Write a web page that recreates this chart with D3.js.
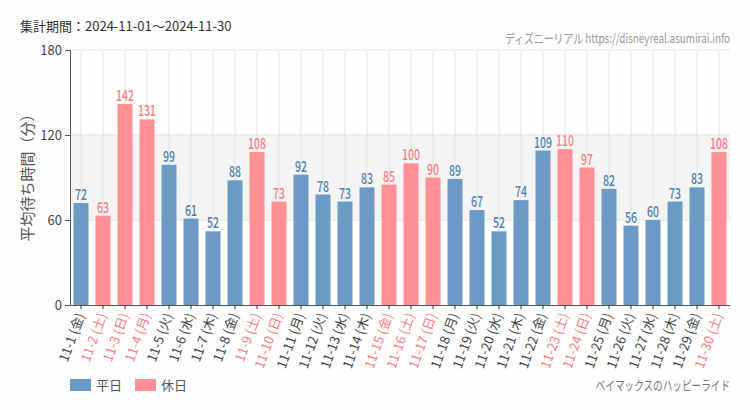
<!DOCTYPE html>
<html><head><meta charset="utf-8">
<script src="https://cdn.jsdelivr.net/npm/d3@7"></script>
<style>
body{margin:0;background:#fdfefd;}
svg{display:block;}
text{font-family:"Noto Sans CJK JP","Noto Sans",sans-serif;}
</style></head>
<body><svg id="c" width="750" height="410"></svg>
<script>
const dates = ["11-1","11-2","11-3","11-4","11-5","11-6","11-7","11-8","11-9","11-10","11-11","11-12","11-13","11-14","11-15","11-16","11-17","11-18","11-19","11-20","11-21","11-22","11-23","11-24","11-25","11-26","11-27","11-28","11-29","11-30"];
const weekdays = ["金","土","日","月","火","水","木","金","土","日","月","火","水","木","金","土","日","月","火","水","木","金","土","日","月","火","水","木","金","土"];
const holiday = [0,1,1,1,0,0,0,0,1,1,0,0,0,0,1,1,1,0,0,0,0,0,1,1,0,0,0,0,0,1];
const waitTimes = [72,63,142,131,99,61,52,88,108,73,92,78,73,83,85,100,90,89,67,52,74,109,110,97,82,56,60,73,83,108];
const yTicks = [0,60,120,180];

const svg = d3.select("#c");
const m = {l:70, r:730, t:50, b:305};
const x = d3.scaleBand().domain(dates).range([m.l, m.r]).paddingInner(0.32).paddingOuter(0.16);
const y = d3.scaleLinear().domain([0,180]).range([m.b, m.t]);
const blue = "#6b9ac4", pink = "#ff8f94";
const blueT = "#4d80b5", pinkT = "#ff7b82";

svg.append("rect").attr("x", m.l).attr("width", m.r - m.l)
  .attr("y", y(120)).attr("height", y(60) - y(120)).attr("fill", "#f3f4f3");

svg.append("g").selectAll("line").data(yTicks.slice(1)).join("line")
  .attr("x1", m.l).attr("x2", m.r).attr("y1", d=>y(d)).attr("y2", d=>y(d))
  .attr("stroke", "#e3e3e3").attr("stroke-width", 1);
svg.append("g").selectAll("line").data(dates).join("line")
  .attr("x1", d=>x(d)+x.bandwidth()/2).attr("x2", d=>x(d)+x.bandwidth()/2)
  .attr("y1", m.t).attr("y2", m.b).attr("stroke", "#e3e3e3");

svg.append("g").selectAll("rect").data(waitTimes).join("rect")
  .attr("x", (d,i)=>x(dates[i])).attr("width", x.bandwidth())
  .attr("y", d=>y(d)).attr("height", d=>y(0)-y(d))
  .attr("fill", (d,i)=>holiday[i]?pink:blue);

svg.append("g").selectAll("text").data(waitTimes).join("text")
  .attr("transform", (d,i)=>`translate(${x(dates[i])+x.bandwidth()/2},${y(d)-3}) scale(0.7,1)`)
  .attr("text-anchor", "middle").attr("font-size", 15).attr("font-weight", 500)
  .attr("font-family", "Roboto, sans-serif")
  .attr("fill", (d,i)=>holiday[i]?pinkT:blueT).text(d=>d);

const ya = svg.append("g").attr("transform", `translate(${m.l},0)`)
  .call(d3.axisLeft(y).tickValues(yTicks).tickSize(5).tickPadding(3));
ya.select(".domain").attr("stroke", "#555");
ya.selectAll(".tick line").attr("stroke", "#555");
ya.selectAll("text").attr("font-size", 13).attr("fill", "#444").attr("font-family", "Roboto, sans-serif");

const xa = svg.append("g").attr("transform", `translate(0,${m.b})`)
  .call(d3.axisBottom(x).tickSize(4).tickSizeOuter(0).tickFormat(""));
xa.select(".domain").attr("stroke", "#555");
xa.selectAll(".tick line").attr("stroke", "#333");

svg.append("g").selectAll("text").data(dates).join("text")
  .attr("transform", (d)=>`translate(${x(d)+x.bandwidth()/2+4},${m.b+10}) rotate(-70)`)
  .attr("text-anchor", "end").attr("font-size", 13)
  .attr("fill", (d,i)=>holiday[i]?pinkT:"#444")
  .text((d,i)=>`${d} (${weekdays[i]})`);

svg.append("text").attr("transform", `translate(33,174) rotate(-90)`)
  .attr("text-anchor", "middle").attr("font-size", 15).attr("fill", "#555")
  .text("平均待ち時間（分）");

svg.append("text").attr("x", 20).attr("y", 31).attr("font-size", 13).attr("fill", "#333")
  .text("集計期間：2024-11-01～2024-11-30");
svg.append("text").attr("transform", `translate(${m.r},43) scale(0.76,1)`)
  .attr("text-anchor", "end").attr("font-size", 13).attr("fill", "#999")
  .text("ディズニーリアル https://disneyreal.asumirai.info");

const legend = [["平日", blue], ["休日", pink]];
const lg = svg.append("g").selectAll("g").data(legend).join("g")
  .attr("transform", (d,i)=>`translate(${70 + i*65},379)`);
lg.append("rect").attr("width", 21).attr("height", 12).attr("fill", d=>d[1]);
lg.append("text").attr("x", 26).attr("y", 11).attr("font-size", 13).attr("fill", "#555").text(d=>d[0]);

svg.append("text").attr("transform", `translate(${m.r},390) scale(0.74,1)`).attr("text-anchor", "end")
  .attr("font-size", 13).attr("fill", "#777").text("ベイマックスのハッピーライド");
</script></body></html>
